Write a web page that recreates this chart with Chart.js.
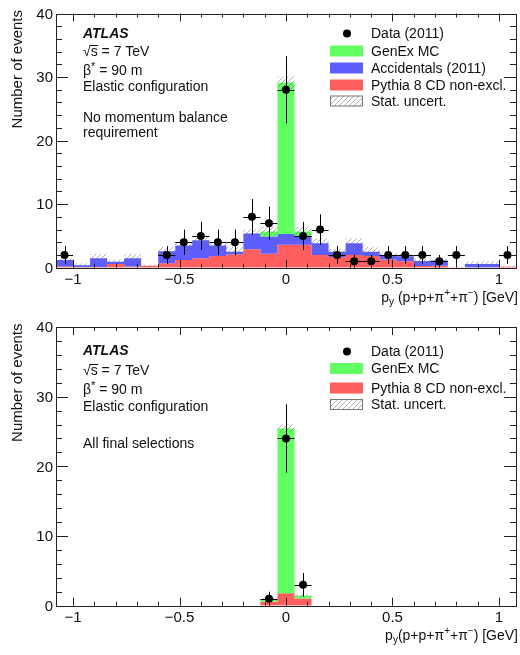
<!DOCTYPE html>
<html><head><meta charset="utf-8">
<script src="https://cdn.jsdelivr.net/npm/chart.js@4.4.1/dist/chart.umd.min.js"></script>
<style>
html,body{margin:0;padding:0;background:#fff;}
#wrap{position:relative;width:520px;height:655px;overflow:hidden;}
canvas{position:absolute;left:0;}
#c1{top:0}
#c2{top:312px}
</style></head><body>
<div id="wrap"><canvas id="c1" width="520" height="312"></canvas><canvas id="c2" width="520" height="343"></canvas></div>
<script>
// ---------------- data ----------------
const binCenters = [-1.04,-0.96,-0.88,-0.80,-0.72,-0.64,-0.56,-0.48,-0.40,-0.32,-0.24,-0.16,-0.08,0.00,0.08,0.16,0.24,0.32,0.40,0.48,0.56,0.64,0.72,0.80,0.88,0.96,1.04];

// top panel: no momentum balance requirement
const topPythia      = [0.2,0.1,0.1,0.6,0.2,0.3,0.7,1.2,1.5,1.85,2.1,2.9,2.2,3.6,3.6,2.0,1.7,2.0,1.85,1.3,1.0,0.25,0.3,0.05,0.05,0.05,0.15];
const topAccidentals = [1.0,0.3,1.4,0.35,1.3,0.0,1.9,2.3,2.8,1.65,0.4,2.5,2.7,1.7,1.4,1.85,0.8,1.85,0.65,0.7,0.8,0.8,0.85,0.0,0.55,0.55,0.0];
const topGenEx       = [0,0,0,0,0,0,0,0,0,0,0,0,0.8,23.8,0.7,0,0,0,0,0,0,0,0,0,0,0,0];
const topStatUnc     = [0.3,0.3,0.7,0.3,0.7,0.2,0.7,0.5,0.5,0.5,0.8,0.6,0.8,1.0,0.8,0.8,0.5,0.8,0.8,0.4,0.4,0.3,0.3,0.1,0.4,0.4,0.2];
const topData        = [2,0,0,0,0,0,2,4,5,4,4,8,7,28,5,6,2,1,1,2,2,2,1,2,0,0,2];
const topDataErr     = [1.4,0,0,0,0,0,1.4,2.0,2.2,2.0,2.0,2.8,2.6,5.3,2.2,2.4,1.4,1.0,1.0,1.4,1.4,1.4,1.0,1.4,0,0,1.4];

// bottom panel: all final selections
const botPythia      = [0,0,0,0,0,0,0,0,0,0,0,0,0.57,1.78,1.05,0,0,0,0,0,0,0,0,0,0,0,0];
const botAccidentals = [0,0,0,0,0,0,0,0,0,0,0,0,0,0,0,0,0,0,0,0,0,0,0,0,0,0,0];
const botGenEx       = [0,0,0,0,0,0,0,0,0,0,0,0,0.39,23.67,0.38,0,0,0,0,0,0,0,0,0,0,0,0];
const botStatUnc     = [0,0,0,0,0,0,0,0,0,0,0,0,0.2,0.6,0.2,0,0,0,0,0,0,0,0,0,0,0,0];
const botData        = [0,0,0,0,0,0,0,0,0,0,0,0,1,24,3,0,0,0,0,0,0,0,0,0,0,0,0];
const botDataErr     = [0,0,0,0,0,0,0,0,0,0,0,0,1.0,4.9,1.7,0,0,0,0,0,0,0,0,0,0,0,0];

const xTickValues = [-1,-0.5,0,0.5,1];
const xTickLabels = ['\u22121','\u22120.5','0','0.5','1'];
const yTickValues = [0,10,20,30,40];
const yTickLabels = ['0','10','20','30','40'];
const xRange = [-1.08,1.08];
const yRange = [0,40];

// ---------------- styling ----------------
const FONT = "'Liberation Sans', Arial, Helvetica, sans-serif";
const GREEN = 'rgb(98,255,98)', BLUE = 'rgb(94,94,255)', RED = 'rgb(255,94,94)';
const TXT = '#111';
const halfW = (binCenters[1]-binCenters[0])/2;

function makeHatch(){
  const c=document.createElement('canvas'); c.width=5; c.height=5;
  const x=c.getContext('2d');
  x.strokeStyle='rgba(110,110,110,0.6)'; x.lineWidth=0.9;
  x.beginPath();
  x.moveTo(0,5); x.lineTo(5,0);
  x.moveTo(-1,1); x.lineTo(1,-1);
  x.moveTo(4,6); x.lineTo(6,4);
  x.stroke();
  return x.createPattern(c,'repeat');
}
const HATCH = makeHatch();

function steps(vals){
  const pts=[];
  vals.forEach((v,i)=>{ pts.push({x:binCenters[i]-halfW,y:v},{x:binCenters[i]+halfW,y:v}); });
  return pts;
}
function cum(){ const arrs=[...arguments]; return arrs[0].map((_,i)=>arrs.reduce((s,a)=>s+a[i],0)); }

// text helpers
function txt(ctx,s,x,y,size,opts={}){
  ctx.save();
  ctx.font=(opts.style||'')+' '+size+'px '+FONT;
  ctx.fillStyle=TXT; ctx.textAlign=opts.align||'left'; ctx.textBaseline='alphabetic';
  ctx.fillText(s,x,y); ctx.restore();
}
function rich(ctx,parts,x,y,align){
  let w=0;
  parts.forEach(p=>{ ctx.font=p[1]+'px '+FONT; w+=ctx.measureText(p[0]).width; });
  let cx = align==='right' ? x-w : x;
  ctx.save(); ctx.fillStyle=TXT; ctx.textBaseline='alphabetic'; ctx.textAlign='left';
  parts.forEach(p=>{ ctx.font=p[1]+'px '+FONT; ctx.fillText(p[0],cx,y+(p[2]||0)); cx+=ctx.measureText(p[0]).width; });
  ctx.restore();
}
function sqrtS(ctx,x,y,size){
  ctx.save(); ctx.font=size+'px '+FONT; ctx.fillStyle=TXT;
  ctx.fillText('\u221A',x,y);
  const w1=ctx.measureText('\u221A').width;
  ctx.fillText('s',x+w1,y);
  const w2=ctx.measureText('s').width;
  ctx.strokeStyle=TXT; ctx.lineWidth=1;
  ctx.beginPath(); ctx.moveTo(x+w1-1,Math.round(y-size*0.78)+0.5); ctx.lineTo(x+w1+w2+0.5,Math.round(y-size*0.78)+0.5); ctx.stroke();
  ctx.fillText(' = 7 TeV',x+w1+w2,y);
  ctx.restore();
}
function betaStar(ctx,x,y,size){
  rich(ctx,[['\u03B2',size,0],['*',size-3,-5],[' = 90 m',size,0]],x,y,'left');
}

function buildPanel(canvasId,P){
  const datasets=[
    {label:'Pythia',data:steps(P.pythia),fill:'origin',backgroundColor:P.colRed,borderColor:'rgba(0,0,0,0)',borderWidth:0,pointRadius:0,order:5},
    {label:'Acc',data:steps(cum(P.pythia,P.acc)),fill:'-1',backgroundColor:BLUE,borderColor:'rgba(0,0,0,0)',borderWidth:0,pointRadius:0,order:4},
    {label:'GenEx',data:steps(cum(P.pythia,P.acc,P.genex)),fill:'-1',backgroundColor:GREEN,borderColor:'rgba(0,0,0,0)',borderWidth:0,pointRadius:0,order:3},
    {label:'uncLo',data:steps(cum(P.pythia,P.acc,P.genex).map((t,i)=>Math.max(0,t-P.unc[i]))),fill:false,borderColor:'rgba(0,0,0,0)',borderWidth:0,pointRadius:0,order:2},
    {label:'uncHi',data:steps(cum(P.pythia,P.acc,P.genex).map((t,i)=>t+P.unc[i])),fill:'-1',backgroundColor:HATCH,borderColor:'rgba(0,0,0,0)',borderWidth:0,pointRadius:0,order:1},
    {label:'Data',data:P.data.map((v,i)=>({x:binCenters[i],y:v})).filter(p=>p.y>0),showLine:false,pointRadius:4,pointHoverRadius:4,pointBackgroundColor:'#000',pointBorderColor:'#000',pointBorderWidth:0,order:0}
  ];
  const deco={
    id:'deco',
    afterDatasetsDraw(chart){
      const ctx=chart.ctx, xs=chart.scales.x, ys=chart.scales.y, a=chart.chartArea;
      ctx.save();
      ctx.strokeStyle='#000'; ctx.lineWidth=1;
      P.data.forEach((v,i)=>{
        if(!v) return;
        const cx=Math.round(xs.getPixelForValue(binCenters[i]))+0.5;
        const cy=Math.round(ys.getPixelForValue(v))+0.5;
        const x0=xs.getPixelForValue(binCenters[i]-halfW), x1=xs.getPixelForValue(binCenters[i]+halfW);
        const y0=ys.getPixelForValue(Math.max(0,v-P.err[i])), y1=ys.getPixelForValue(v+P.err[i]);
        ctx.beginPath(); ctx.moveTo(x0,cy); ctx.lineTo(x1,cy); ctx.moveTo(cx,y0); ctx.lineTo(cx,y1); ctx.stroke();
      });
      ctx.strokeStyle='#222'; ctx.lineWidth=1;
      ctx.beginPath();
      for(let k=-10;k<=10;k++){
        const v=k/10; const px=Math.round(xs.getPixelForValue(v))+0.5;
        const L=(k%5===0)?8:4;
        ctx.moveTo(px,a.bottom); ctx.lineTo(px,a.bottom-L);
        ctx.moveTo(px,a.top); ctx.lineTo(px,a.top+L);
      }
      for(let v=yRange[0]; v<=yRange[1]; v+=2){
        const py=Math.round(ys.getPixelForValue(v))+0.5;
        const L=(v%10===0)?12:6;
        ctx.moveTo(a.left,py); ctx.lineTo(a.left+L,py);
        ctx.moveTo(a.right,py); ctx.lineTo(a.right-L,py);
      }
      ctx.stroke();
      ctx.strokeRect(Math.round(a.left)+0.5,Math.round(a.top)+0.5,Math.round(a.right-a.left),Math.round(a.bottom-a.top));
      ctx.fillStyle=TXT; ctx.font='15px '+FONT; ctx.textBaseline='alphabetic';
      ctx.textAlign='center';
      xTickValues.forEach((v,i)=>{ ctx.fillText(xTickLabels[i],xs.getPixelForValue(v),a.bottom+P.xLabDy); });
      ctx.textAlign='right';
      yTickValues.forEach((v,i)=>{ ctx.fillText(yTickLabels[i],a.left-3,ys.getPixelForValue(v)+5.3); });
      ctx.restore();
    },
    afterDraw(chart){
      const ctx=chart.ctx, a=chart.chartArea, o=P.offset;
      ctx.save(); ctx.translate(21.5,a.top-3.5); ctx.rotate(-Math.PI/2);
      ctx.font='15px '+FONT; ctx.fillStyle=TXT; ctx.textAlign='right'; ctx.fillText('Number of events',0,0); ctx.restore();
      rich(ctx,[['p',14,0],['y',10,3],[P.xTitleGap+'(p+p+\u03C0',14,0],['+',10,-6],['+\u03C0',14,0],['\u2212',10,-6],[') [GeV]',14,0]],518,P.xTitleY-o,'right');
      const L=P.ann;
      txt(ctx,'ATLAS',83,L[0]-o,14,{style:'italic bold'});
      sqrtS(ctx,83,L[1]-o,14);
      betaStar(ctx,83,L[2]-o,14);
      txt(ctx,'Elastic configuration',83,L[3]-o,14);
      P.extra.forEach(e=>txt(ctx,e[0],83,e[1]-o,14));
      P.legend.forEach(r=>{
        const yb=r.y-o;
        if(r.type==='data'){
          ctx.save(); ctx.fillStyle='#000'; ctx.beginPath(); ctx.arc(347,yb-4.5,4,0,Math.PI*2); ctx.fill(); ctx.restore();
        } else {
          ctx.save();
          ctx.fillStyle=r.type==='hatch'?HATCH:r.color;
          ctx.fillRect(330,yb-10,33,11);
          if(r.type==='hatch'){ ctx.strokeStyle='#777'; ctx.lineWidth=1; ctx.strokeRect(330.5,yb-9.5,32,10); }
          ctx.restore();
        }
        txt(ctx,r.text,371,yb,14);
      });
    }
  };
  return new Chart(document.getElementById(canvasId),{
    type:'line',
    data:{datasets},
    options:{
      responsive:false, animation:false, devicePixelRatio:1, events:[],
      layout:{padding:P.padding},
      plugins:{legend:{display:false},tooltip:{enabled:false}},
      scales:{
        x:{type:'linear',min:xRange[0],max:xRange[1],display:false},
        y:{type:'linear',min:yRange[0],max:yRange[1],display:false}
      },
      elements:{line:{tension:0}}
    },
    plugins:[deco]
  });
}

buildPanel('c1',{
  pythia:topPythia, acc:topAccidentals, genex:topGenEx, unc:topStatUnc, data:topData, err:topDataErr,
  colRed:RED, offset:0,
  padding:{left:56,right:3,top:13.5,bottom:44.3},
  xLabDy:16, xTitleY:301.5, xTitleGap:' ',
  ann:[37.5,56,74.5,91],
  extra:[['No momentum balance',121.5],['requirement',136.5]],
  legend:[
    {type:'data',text:'Data (2011)',y:38},
    {type:'box',color:GREEN,text:'GenEx MC',y:55.5},
    {type:'box',color:BLUE,text:'Accidentals (2011)',y:72.5},
    {type:'box',color:RED,text:'Pythia 8 CD non-excl.',y:89.5},
    {type:'hatch',text:'Stat. uncert.',y:105.5}
  ]
});
buildPanel('c2',{
  pythia:botPythia, acc:botAccidentals, genex:botGenEx, unc:botStatUnc, data:botData, err:botDataErr,
  colRed:RED, offset:312,
  padding:{left:56,right:3,top:15,bottom:49.3},
  xLabDy:16.5, xTitleY:639.5, xTitleGap:'',
  ann:[354.5,375,393.5,410.5],
  extra:[['All final selections',447.5]],
  legend:[
    {type:'data',text:'Data (2011)',y:356},
    {type:'box',color:GREEN,text:'GenEx MC',y:373},
    {type:'box',color:RED,text:'Pythia 8 CD non-excl.',y:392.5},
    {type:'hatch',text:'Stat. uncert.',y:409}
  ]
});
</script>
</body></html>
